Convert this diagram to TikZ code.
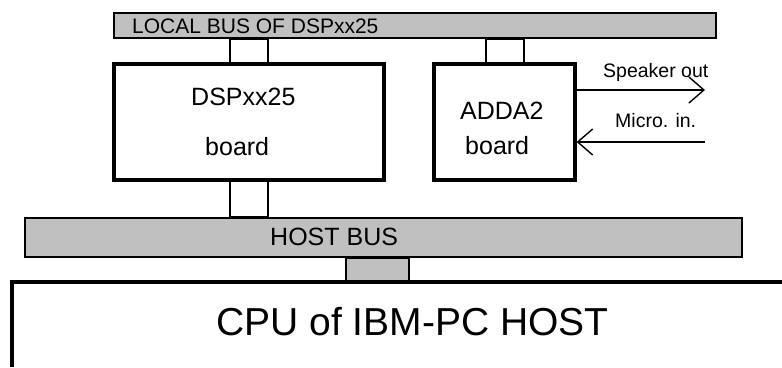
\documentclass[tikz,border=0pt]{standalone}
\usepackage{fontspec}
\setmainfont{Liberation Sans}
\usetikzlibrary{arrows.meta}
\definecolor{busgrey}{HTML}{C0C0C0}
\tikzset{
  bus/.style={draw=black, fill=busgrey, line width=2pt, inner sep=0pt},
  board/.style={draw=black, fill=white, line width=3.2pt, inner sep=0pt},
  link/.style={draw=black, line width=1.3pt},
  hostlink/.style={draw=black, fill=busgrey, line width=1.3pt},
  lbl/.style={inner sep=0pt, anchor=base west},
  sig/.style={line width=1.4pt, -{Straight Barb[length=15pt,width=26pt,line width=1.4pt]}},
}
\newcommand{\fs}[1]{\fontsize{#1}{#1}\selectfont}
\begin{document}
\begin{tikzpicture}[x=1pt,y=-1pt]
\useasboundingbox (0,0) rectangle (782,367);
% buses
\node[bus, minimum width=602pt, minimum height=25pt] (lbus) at (415,25.5) {};
\node[bus, minimum width=717pt, minimum height=39pt] (hbus) at (383.5,237.5) {};
% boards
\node[board, minimum width=270pt, minimum height=116pt] (dsp) at (249,122) {};
\node[board, minimum width=141pt, minimum height=116pt] (adda) at (504.5,122) {};
% connectors
\draw[link] (230,0 |- lbus.south) rectangle (268,0 |- dsp.north);
\draw[link] (486,0 |- lbus.south) rectangle (524,0 |- adda.north);
\draw[link] (230,0 |- dsp.south) rectangle (268,0 |- hbus.north);
\coordinate (cputl) at (12,282);
\draw[hostlink] (346,0 |- hbus.south) rectangle (409,0 |- cputl);
% CPU box (partially visible)
\draw[line width=3.3pt] (12,367) -- (cputl) -- (782,282);
% texts
\node[lbl] (tl) at (132,33.5) {\fs{21}LOCAL BUS OF DSPxx25};
\node[lbl] (th) at (270,245) {\fs{25}HOST BUS};
\node[lbl] (td1) at (191,105) {\fs{25}DSPxx25};
\node[lbl] (td2) at (205,155) {\fs{25}board};
\node[lbl] (ta1) at (460,119.5) {\fs{25}ADDA2};
\node[lbl] (ta2) at (465,154) {\fs{25}board};
\node[lbl] (tc) at (216,335) {\fs{39}CPU of IBM-PC HOST};
\node[lbl] (ts) at (603,77) {\fs{19.5}Speaker out};
\node[lbl] (tm) at (615,127) {\fs{19.5}Micro. in.};
% signals
\coordinate (spk) at (705,90);
\coordinate (mic) at (705,142);
\draw[sig] (adda.east |- spk) -- (spk);
\draw[sig] (mic) -- (adda.east |- mic);
\end{tikzpicture}
\end{document}
